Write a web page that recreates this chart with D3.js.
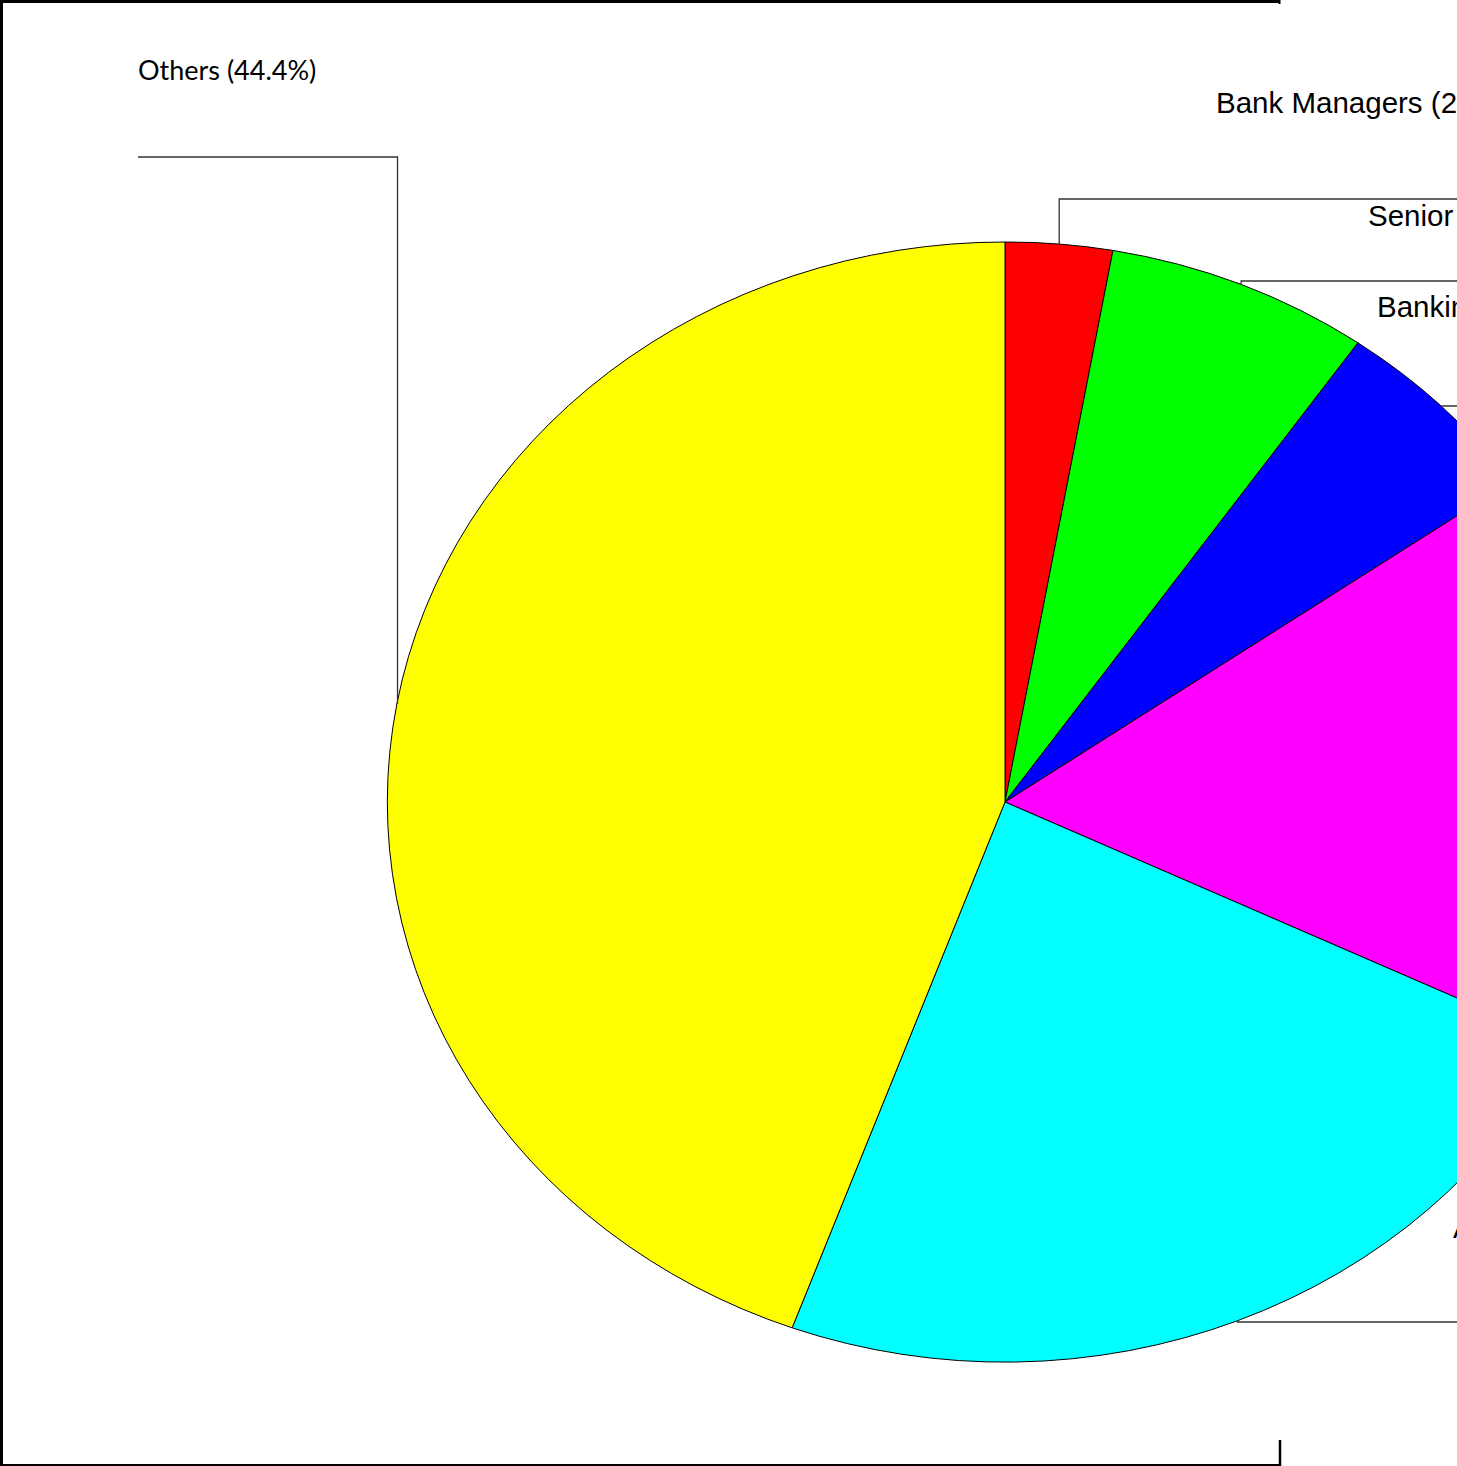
<!DOCTYPE html>
<html>
<head>
<meta charset="utf-8">
<script src="https://cdn.jsdelivr.net/npm/d3@7"></script>
<style>
  html, body { margin: 0; padding: 0; background: #fff; overflow: hidden; }
  svg { display: block; }
</style>
</head>
<body>
<svg id="chart" width="1457" height="1466"></svg>
<script>
// ---- data ----
const categories = ["Bank Managers", "Senior Officers", "Banking Assistants", "Clerks", "Accountants", "Others"];
const shares = [2.8, 6.9, 5.6, 16.8, 23.5, 44.4];
const colors = ["#ff0000", "#00ff00", "#0000ff", "#ff00ff", "#00ffff", "#ffff00"];
const labelTexts = categories.map((c, i) => `${c} (${shares[i].toFixed(1)}%)`);

// ---- layout ----
const W = 1457, H = 1466;
const cx = 1005, cy = 802, rx = 617, ry = 560;
const svg = d3.select("#chart");

// frame (partially visible)
const frame = svg.append("g").attr("stroke", "#000").attr("fill", "none");
frame.append("line").attr("x1", 0).attr("x2", 1280).attr("y1", 1.5).attr("y2", 1.5).attr("stroke-width", 3);
frame.append("line").attr("x1", 1.5).attr("x2", 1.5).attr("y1", 0).attr("y2", H).attr("stroke-width", 3);
frame.append("line").attr("x1", 0).attr("x2", 1281).attr("y1", 1465).attr("y2", 1465).attr("stroke-width", 2);
frame.append("line").attr("x1", 1280).attr("x2", 1280).attr("y1", 1440).attr("y2", H).attr("stroke-width", 2.5);
frame.append("line").attr("x1", 1279.5).attr("x2", 1279.5).attr("y1", 0).attr("y2", 4).attr("stroke-width", 2);

const pie = d3.pie().sort(null).value(d => d)(shares);
const arc = d3.arc().innerRadius(0).outerRadius(1);

// slices drawn on a unit circle, stretched into an ellipse
const g = svg.append("g").attr("transform", `translate(${cx},${cy}) scale(${rx},${ry})`);
g.selectAll("path.slice")
  .data(pie)
  .join("path")
  .attr("class", "slice")
  .attr("d", arc)
  .attr("fill", (d, i) => colors[i])
  .attr("stroke", "#000")
  .attr("stroke-width", 1)
  .attr("vector-effect", "non-scaling-stroke");

// leader lines + labels
const rowY = [199, 281, null, null, 1322, 157];      // elbow rows (null = straight from slice)
const lineEndX = [1700, 1700, 1700, 1700, 1700, 138];
const labelPos = [
  {x: 1216, y: 113, font: "'Liberation Sans', Arial, sans-serif", size: 29.5},
  {x: 1368, y: 226, font: "'Liberation Sans', Arial, sans-serif", size: 29.5},
  {x: 1377, y: 317, font: "'Liberation Sans', Arial, sans-serif", size: 29.5},
  {x: 1620, y: 600, font: "'Liberation Sans', Arial, sans-serif", size: 29.5},
  {x: 1453, y: 1238, font: "'Liberation Sans', Arial, sans-serif", size: 29.5},
  {x: 138, y: 80, font: "Lato, 'Open Sans', sans-serif", size: 27}
];

function mid(d) {
  const a = (d.startAngle + d.endAngle) / 2;
  return [cx + rx * Math.sin(a), cy - ry * Math.cos(a)];
}

const leaders = svg.append("g").attr("fill", "none").attr("stroke", "#333").attr("stroke-width", 1.3);
pie.forEach((d, i) => {
  const [mx, my] = mid(d);
  const ry0 = rowY[i] == null ? my : rowY[i];
  leaders.append("path")
    .attr("d", d3.line()([[mx, my], [mx, ry0], [lineEndX[i], ry0]]));
});

svg.append("g").selectAll("text")
  .data(labelTexts)
  .join("text")
  .attr("x", (d, i) => labelPos[i].x)
  .attr("y", (d, i) => labelPos[i].y)
  .attr("font-family", (d, i) => labelPos[i].font)
  .attr("font-size", (d, i) => labelPos[i].size)
  .attr("fill", "#000")
  .text(d => d);
</script>
</body>
</html>
